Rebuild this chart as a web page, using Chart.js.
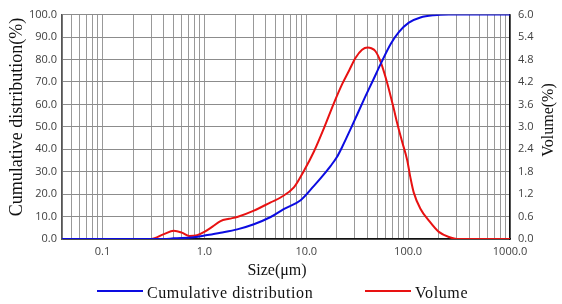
<!DOCTYPE html>
<html>
<head>
<meta charset="utf-8">
<title>Particle size distribution</title>
<script src="https://cdn.jsdelivr.net/npm/chart.js@4.4.1/dist/chart.umd.min.js"></script>
<style>
  html, body { margin: 0; padding: 0; background: #fff; }
  #psd-chart { display: block; }
</style>
</head>
<body>
<canvas id="psd-chart" width="562" height="304"></canvas>
<script>
// Cumulative distribution: particle size (um) / passing (%)
const cumSizes = [0.04, 0.4, 0.5, 0.79, 1.07, 1.44, 2.1, 3.06, 4.47, 6.0, 8.8, 11.9, 13.8, 17.3, 20, 22.5, 28.2, 36.7, 45, 53.5, 67.6, 81, 101.6, 132, 178, 250, 1000];
const cumValues = [0, 0, 0.3, 0.75, 1.75, 2.8, 4.3, 6.6, 9.8, 13.3, 17.3, 23.7, 27, 32.5, 36.5, 41, 50.5, 62, 70.5, 77.8, 87, 92.2, 96.4, 98.7, 99.7, 100, 100];

// Volume distribution: particle size (um) / volume (%)
const volSizes = [0.04, 0.3, 0.4, 0.5, 0.6, 0.71, 0.85, 1.0, 1.2, 1.44, 1.75, 2.1, 3.06, 4.47, 5.6, 7.56, 9.47, 11.9, 14.9, 18.6, 22.5, 26.5, 30.4, 35.3, 40, 43.5, 47.8, 53.5, 62.2, 72.3, 78, 87.3, 97.7, 105, 113.6, 132, 159, 200, 260, 300, 1000];
const volValues = [0, 0, 0.13, 0.22, 0.17, 0.08, 0.1, 0.19, 0.33, 0.48, 0.54, 0.59, 0.76, 0.98, 1.11, 1.38, 1.82, 2.34, 2.96, 3.62, 4.14, 4.52, 4.84, 5.06, 5.12, 5.1, 5.02, 4.75, 4.18, 3.48, 3.1, 2.6, 2.12, 1.66, 1.24, 0.81, 0.5, 0.19, 0.04, 0, 0];

// Labelled decades on the size axis
const sizeTickLabels = ['0.1', '1.0', '10.0', '100.0', '1000.0'];
const seriesLabels = ['Cumulative distribution', 'Volume'];
const axisTitles = { x: 'Size(μm)', y: 'Cumulative distribution(%)', y1: 'Volume(%)' };

const SERIF = '"Liberation Serif", "Times New Roman", serif';

function toPoints(xs, ys) {
    return xs.map((x, i) => ({ x: x, y: ys[i] }));
}

// log grid: every 1..9 x 10^n between the axis limits
function logGridValues(min, max) {
    const values = [];
    for (let e = -2; e <= 3; e++) {
        for (let m = 1; m <= 9; m++) {
            const v = parseFloat((m * Math.pow(10, e)).toPrecision(6));
            if (v >= min - 1e-9 && v <= max + 1e-9) values.push(v);
        }
    }
    return values;
}

// Axis titles (right one reads bottom to top) and the legend under the plot
const titlesAndLegend = {
    id: 'titlesAndLegend',
    afterDraw(chart) {
        const ctx = chart.ctx;
        ctx.save();
        ctx.fillStyle = '#111';
        ctx.textAlign = 'center';
        ctx.textBaseline = 'middle';

        ctx.font = '18px ' + SERIF;
        ctx.save();
        ctx.translate(17, 117);
        ctx.rotate(-Math.PI / 2);
        ctx.fillText(axisTitles.y, 0, 0);
        ctx.restore();

        ctx.font = '16px ' + SERIF;
        ctx.save();
        ctx.translate(549, 120);
        ctx.rotate(-Math.PI / 2);
        ctx.fillText(axisTitles.y1, 0, 0);
        ctx.restore();

        ctx.fillText(axisTitles.x, 277, 271);

        const legendX = [97, 365];
        ctx.textAlign = 'left';
        ctx.letterSpacing = '0.6px';
        chart.data.datasets.forEach((ds, i) => {
            const x0 = legendX[i];
            ctx.strokeStyle = ds.borderColor;
            ctx.lineWidth = 2;
            ctx.beginPath();
            ctx.moveTo(x0, 291);
            ctx.lineTo(x0 + 46, 291);
            ctx.stroke();
            ctx.fillText(ds.label, x0 + 50, 294);
        });
        ctx.restore();
    }
};

Chart.defaults.font.family = '"Open Sans", "DejaVu Sans", sans-serif';
Chart.defaults.font.size = 11;
Chart.defaults.color = '#404040';

const ctx = document.getElementById('psd-chart');
const chart = new Chart(ctx, {
    type: 'line',
    data: {
        datasets: [
            {
                label: seriesLabels[0],
                data: toPoints(cumSizes, cumValues),
                yAxisID: 'y',
                borderColor: 'rgb(12, 12, 225)',
                backgroundColor: 'rgb(12, 12, 225)',
                borderWidth: 2,
                pointRadius: 0,
                cubicInterpolationMode: 'monotone'
            },
            {
                label: seriesLabels[1],
                data: toPoints(volSizes, volValues),
                yAxisID: 'y1',
                borderColor: 'rgb(232, 18, 18)',
                backgroundColor: 'rgb(232, 18, 18)',
                borderWidth: 2,
                pointRadius: 0,
                cubicInterpolationMode: 'monotone'
            }
        ]
    },
    options: {
        responsive: false,
        animation: false,
        devicePixelRatio: 1,
        layout: { padding: { top: 11, left: 0, right: 0, bottom: 0 } },
        plugins: {
            legend: { display: false },
            tooltip: { enabled: false }
        },
        scales: {
            x: {
                type: 'logarithmic',
                min: 0.04,
                max: 1000,
                afterFit: scale => { scale.height = 65; },
                afterBuildTicks: scale => {
                    scale.ticks = logGridValues(0.04, 1000).map(v => ({ value: v }));
                },
                grid: { color: '#999', lineWidth: 1, drawTicks: false },
                border: { color: '#111', width: 1.5 },
                ticks: {
                    autoSkip: false,
                    maxRotation: 0,
                    padding: 6,
                    callback: function(value) {
                        const lbl = sizeTickLabels.find(t =>
                            Math.abs(Math.log10(parseFloat(t)) - Math.log10(value)) < 1e-6);
                        return lbl || '';
                    }
                }
            },
            y: {
                position: 'left',
                min: 0,
                max: 100,
                afterFit: scale => { scale.width = 62; },
                grid: { color: '#8c8c8c', lineWidth: 1, drawTicks: false },
                border: { color: '#555', width: 1.5 },
                ticks: {
                    stepSize: 10,
                    padding: 5,
                    callback: value => value.toFixed(1)
                }
            },
            y1: {
                position: 'right',
                min: 0,
                max: 6,
                afterFit: scale => { scale.width = 52; },
                grid: { drawOnChartArea: false, drawTicks: false },
                border: { color: '#111', width: 1.5 },
                ticks: {
                    stepSize: 0.6,
                    padding: 8,
                    callback: value => value.toFixed(1)
                }
            }
        }
    },
    plugins: [titlesAndLegend]
});
</script>
</body>
</html>
